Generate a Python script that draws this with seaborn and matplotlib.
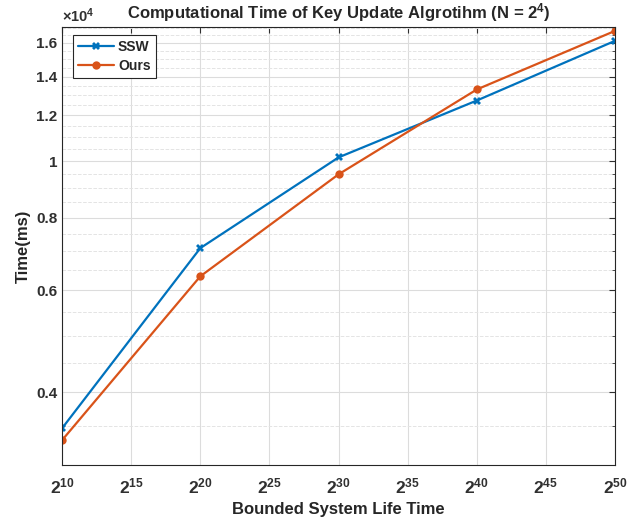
import numpy as np
import pandas as pd
import seaborn as sns
import matplotlib.pyplot as plt
from matplotlib.ticker import FixedLocator, NullLocator, NullFormatter

# data (x = exponent of 2, y in ms)
life_exp = [10, 20, 30, 40, 50]
ssw_time = [3470, 7090, 10160, 12730, 16130]
ours_time = [3310, 6340, 9500, 13300, 16780]

df = pd.DataFrame({
    'x': life_exp * 2,
    'time': ssw_time + ours_time,
    'method': ['SSW'] * 5 + ['Ours'] * 5,
})

sns.set_style('white')
plt.rcParams['font.family'] = ['Liberation Sans', 'DejaVu Sans']
plt.rcParams['font.weight'] = 'bold'
plt.rcParams['mathtext.fontset'] = 'custom'
plt.rcParams['mathtext.rm'] = 'Liberation Sans:bold'
plt.rcParams['mathtext.it'] = 'Liberation Sans:bold'
plt.rcParams['mathtext.bf'] = 'Liberation Sans:bold'

fig = plt.figure(figsize=(6.27, 5.26), dpi=100)
ax = fig.add_axes([0.099, 0.116, 0.882, 0.833])

sns.lineplot(data=df, x='x', y='time', hue='method', style='method',
             markers={'SSW': 'X', 'Ours': 'o'}, dashes=False,
             palette={'SSW': '#0072BD', 'Ours': '#D95319'},
             linewidth=1.6, markersize=6, markeredgewidth=0, ax=ax)

ax.set_yscale('log')
ax.set_xlim(10, 50)
ax.set_ylim(3000, 17050)

yt = [4000, 6000, 8000, 10000, 12000, 14000, 16000]
ax.yaxis.set_major_locator(FixedLocator(yt))
ax.set_yticklabels(['0.4', '0.6', '0.8', '1', '1.2', '1.4', '1.6'])
ax.yaxis.set_minor_locator(FixedLocator(np.arange(3000, 17001, 500)))
ax.yaxis.set_minor_formatter(NullFormatter())

xt = list(range(10, 51, 5))
ax.set_xticks(xt)
ax.set_xticklabels(['$2^{%d}$' % v for v in xt])
ax.xaxis.set_minor_locator(NullLocator())

ax.grid(True, which='major', color='#dcdcdc', linestyle='-', linewidth=0.8)
ax.grid(True, which='minor', axis='y', color='#e4e4e4', linestyle='--', linewidth=0.7)

ax.tick_params(which='both', direction='in', top=True, right=True,
               colors='#303030', labelsize=11)
ax.tick_params(which='major', length=4)
ax.tick_params(which='minor', length=2)
ax.tick_params(axis='x', labelsize=12.5, pad=8)
for s in ax.spines.values():
    s.set_color('#262626')
    s.set_linewidth(0.8)

ax.text(0.0, 1.005, r'$\times10^{4}$', transform=ax.transAxes,
        fontsize=10.5, color='#303030', ha='left', va='bottom')

ax.set_title(r'Computational Time of Key Update Algrotihm (N = $2^4$)',
             fontsize=12, fontweight='bold', pad=6)
ax.set_xlabel('Bounded System Life Time', fontsize=12, fontweight='bold', color='#262626')
ax.set_ylabel('Time(ms)', fontsize=12, fontweight='bold', color='#262626')

leg = ax.legend(loc='upper left', bbox_to_anchor=(0.012, 0.99), fontsize=10,
                frameon=True, fancybox=False, framealpha=1, edgecolor='#262626',
                handlelength=2.6, handletextpad=0.3, borderpad=0.35,
                labelspacing=0.35, borderaxespad=0.3)
leg.get_frame().set_linewidth(0.8)

fig.savefig('out.png', dpi=100)
